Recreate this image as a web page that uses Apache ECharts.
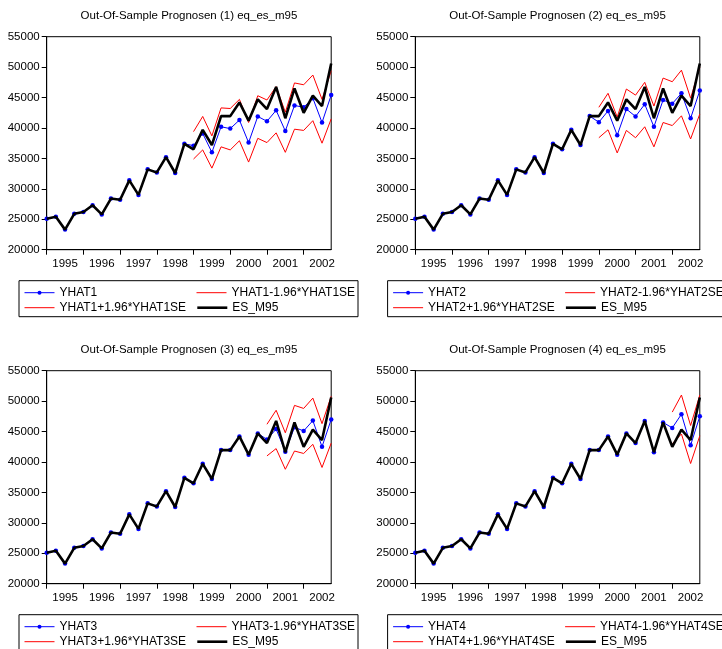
<!DOCTYPE html>
<html><head><meta charset="utf-8">
<script src="https://cdn.jsdelivr.net/npm/echarts@6/dist/echarts.min.js"></script>
<style>html,body{margin:0;padding:0;background:#fff}#c{width:722px;height:649px}</style>
</head><body><div id="c"></div>
<script>
const quarters = ['1995Q1','1995Q2','1995Q3','1995Q4','1996Q1','1996Q2','1996Q3','1996Q4',
  '1997Q1','1997Q2','1997Q3','1997Q4','1998Q1','1998Q2','1998Q3','1998Q4',
  '1999Q1','1999Q2','1999Q3','1999Q4','2000Q1','2000Q2','2000Q3','2000Q4',
  '2001Q1','2001Q2','2001Q3','2001Q4','2002Q1','2002Q2','2002Q3','2002Q4'];

const esM95 = [25100,25400,23300,25900,26200,27300,25800,28400,28200,31400,29000,33200,32700,35200,32600,37400,
  36500,39700,37200,41950,41950,44200,41200,44700,43100,46750,41600,46500,42500,45300,43600,50600];

const yhat1 = [25100,25400,23300,25900,26200,27300,25800,28400,28200,31400,29000,33200,32700,35200,32600,37400,
  37100,39100,36000,40200,39900,41300,37600,41900,41100,42900,39500,43700,43400,44900,40900,45400];
const yhat1Lo = [null,null,null,null,null,null,null,null,null,null,null,null,null,null,null,null,
  34900,36400,33400,36900,36400,37900,34400,38300,37600,39200,36000,39800,39600,41200,37500,41500];
const yhat1Hi = [null,null,null,null,null,null,null,null,null,null,null,null,null,null,null,null,
  39400,41900,38700,43300,43200,44700,40900,45300,44600,46800,42600,47400,47100,48700,44700,49400];

const yhat2 = [25100,25400,23300,25900,26200,27300,25800,28400,28200,31400,29000,33200,32700,35200,32600,37400,
  36500,39700,37200,41950,40950,42800,38800,43100,41900,43900,40200,44600,44000,45700,41600,46150];
const yhat2Lo = [null,null,null,null,null,null,null,null,null,null,null,null,null,null,null,null,
  null,null,null,null,38400,39700,35900,39600,38400,40200,36900,40900,40400,42000,38200,42300];
const yhat2Hi = [null,null,null,null,null,null,null,null,null,null,null,null,null,null,null,null,
  null,null,null,null,43400,45700,41800,46400,45400,47500,43600,48200,47600,49500,44900,50000];

const yhat3 = [25100,25400,23300,25900,26200,27300,25800,28400,28200,31400,29000,33200,32700,35200,32600,37400,
  36500,39700,37200,41950,41950,44200,41200,44700,43700,45400,41700,45700,45100,46800,42500,47000];
const yhat3Lo = [null,null,null,null,null,null,null,null,null,null,null,null,null,null,null,null,
  null,null,null,null,null,null,null,null,41000,42200,38800,41800,41400,42900,39100,43100];
const yhat3Hi = [null,null,null,null,null,null,null,null,null,null,null,null,null,null,null,null,
  null,null,null,null,null,null,null,null,46200,48500,44800,49300,48800,50500,46300,50800];

const yhat4 = [25100,25400,23300,25900,26200,27300,25800,28400,28200,31400,29000,33200,32700,35200,32600,37400,
  36500,39700,37200,41950,41950,44200,41200,44700,43100,46750,41600,46500,45600,47850,42750,47500];
const yhat4Lo = [null,null,null,null,null,null,null,null,null,null,null,null,null,null,null,null,
  null,null,null,null,null,null,null,null,null,null,null,null,43000,44600,39750,44300];
const yhat4Hi = [null,null,null,null,null,null,null,null,null,null,null,null,null,null,null,null,
  null,null,null,null,null,null,null,null,null,null,null,null,48200,51000,46000,51000];

const titles = ['Out-Of-Sample Prognosen (1) eq_es_m95','Out-Of-Sample Prognosen (2) eq_es_m95',
  'Out-Of-Sample Prognosen (3) eq_es_m95','Out-Of-Sample Prognosen (4) eq_es_m95'];
const seriesNames = [
  ['YHAT1','YHAT1-1.96*YHAT1SE','YHAT1+1.96*YHAT1SE','ES_M95'],
  ['YHAT2','YHAT2-1.96*YHAT2SE','YHAT2+1.96*YHAT2SE','ES_M95'],
  ['YHAT3','YHAT3-1.96*YHAT3SE','YHAT3+1.96*YHAT3SE','ES_M95'],
  ['YHAT4','YHAT4-1.96*YHAT4SE','YHAT4+1.96*YHAT4SE','ES_M95']];
const yhats = [yhat1,yhat2,yhat3,yhat4];
const los = [yhat1Lo,yhat2Lo,yhat3Lo,yhat4Lo];
const his = [yhat1Hi,yhat2Hi,yhat3Hi,yhat4Hi];

const FONT = 'Liberation Sans, Arial, sans-serif';
const layout = [
  {left:46.7, top:36.7}, {left:415.3, top:36.7},
  {left:46.7, top:370.7}, {left:415.3, top:370.7}];
const GW = 284.5, GH = 213;
const legendLineW = [1, 1, 1, 2.6];

const option = {
  animation:false, backgroundColor:'#fff',
  title:[], grid:[], xAxis:[], yAxis:[], series:[], legend:[], graphic:[]
};

layout.forEach((L,i)=>{
  const bottom = L.top + GH;
  option.title.push({text:titles[i], left:L.left+GW/2, top:L.top-27, textAlign:'center', padding:0,
    textStyle:{fontSize:11.5, fontWeight:'normal', color:'#000', fontFamily:FONT}});
  option.grid.push({left:L.left, top:L.top, width:GW, height:GH, show:true, borderColor:'#000', borderWidth:1, backgroundColor:'transparent'});
  option.xAxis.push({type:'category', gridIndex:i, data:quarters, boundaryGap:false,
    axisLine:{lineStyle:{color:'#000', width:1}},
    axisTick:{show:true, length:5, interval:(idx)=>idx%4===0, lineStyle:{color:'#000'}},
    axisLabel:{interval:(idx)=>idx%4===2, formatter:(v)=>v.slice(0,4), margin:8, color:'#000', fontSize:11.5, fontFamily:FONT},
    splitLine:{show:false}});
  option.yAxis.push({type:'value', gridIndex:i, min:20000, max:55000, interval:5000,
    axisLine:{show:true, lineStyle:{color:'#000', width:1}},
    axisTick:{show:true, length:5, lineStyle:{color:'#000'}},
    axisLabel:{formatter:(v)=>String(v), margin:7, padding:[0,0,3,0], color:'#000', fontSize:11.5, fontFamily:FONT},
    splitLine:{show:false}});
  const n = seriesNames[i];
  option.series.push({name:n[0], type:'line', xAxisIndex:i, yAxisIndex:i, data:yhats[i],
    symbol:'circle', symbolSize:4.5, showSymbol:true, itemStyle:{color:'#0000ff'},
    lineStyle:{color:'#0000ff', width:1}, z:2});
  option.series.push({name:n[1], type:'line', xAxisIndex:i, yAxisIndex:i, data:los[i],
    symbol:'none', lineStyle:{color:'#ff0000', width:1}, itemStyle:{color:'#ff0000'}, z:3});
  option.series.push({name:n[2], type:'line', xAxisIndex:i, yAxisIndex:i, data:his[i],
    symbol:'none', lineStyle:{color:'#ff0000', width:1}, itemStyle:{color:'#ff0000'}, z:3});
  option.series.push({name:n[3], type:'line', xAxisIndex:i, yAxisIndex:i, data:esM95,
    symbol:'none', lineStyle:{color:'#000', width:2.6}, itemStyle:{color:'#000'}, z:4});
  const pos = [
    {left:L.left-22.7, top:bottom+37},
    {left:L.left+149.3, top:bottom+37},
    {left:L.left-22.7, top:bottom+52},
    {left:L.left+149.3, top:bottom+52}];
  n.forEach((nm,j)=>{
    option.legend.push({data:[nm], left:pos[j].left, top:pos[j].top, padding:0, itemWidth:30,
      itemHeight: j===0 ? 5 : 8, itemGap:5,
      itemStyle: j===0 ? {} : {opacity:0},
      lineStyle:{width:legendLineW[j]},
      selectedMode:false, textStyle:{fontSize:12, color:'#000', fontFamily:FONT}});
  });
  option.graphic.push({type:'rect', shape:{x:L.left-27.7, y:bottom+31, width:339, height:36},
    style:{fill:'none', stroke:'#000', lineWidth:1}, z:0, silent:true});
});

const chart = echarts.init(document.getElementById('c'), null, {renderer:'canvas'});
chart.setOption(option);
</script></body></html>
